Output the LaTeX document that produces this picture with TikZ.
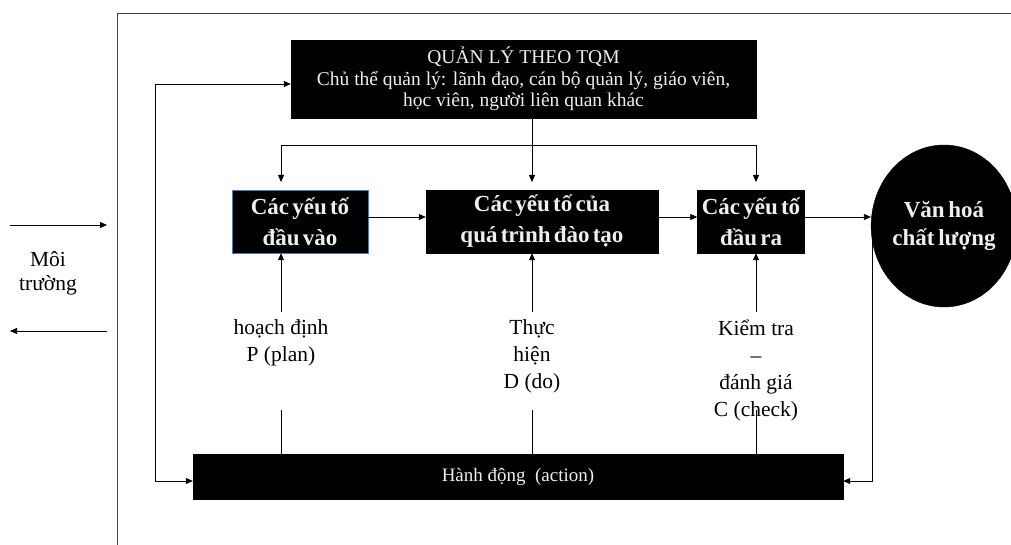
\documentclass[tikz,border=0pt]{standalone}
\usepackage{fontspec}
\setmainfont{Liberation Serif}
\usetikzlibrary{arrows.meta,shapes.geometric}
\definecolor{boxtext}{RGB}{238,238,238}
\definecolor{edgeblue}{RGB}{80,120,180}
\newcommand\myboldfont{\fontsize{23}{31}\selectfont\bfseries\spaceskip=0.14em\relax}
\newcommand\myellfont{\fontsize{23}{28}\selectfont\bfseries\spaceskip=0.16em\relax}
\begin{document}
\begin{tikzpicture}[x=1pt,y=-1pt,
  ln/.style={line width=0.8pt},
  arr/.style={ln,-{Triangle[length=7pt,width=6pt]}},
  dbl/.style={ln,{Triangle[length=7pt,width=6pt]}-{Triangle[length=7pt,width=6pt]}},
  blk/.style={draw=black,fill=black,text=boxtext,inner sep=0pt,align=center},
  boldtxt/.style={font=\myboldfont},
  lbl/.style={align=center,inner sep=0pt,font=\fontsize{21.5}{27}\selectfont}
]
\useasboundingbox (0,0) rectangle (1011,545);
% outer frame
\draw[ln,black!75] (117,545) -- (117,13) -- (1011,13);

% boxes
\node[blk,minimum width=465pt,minimum height=78pt,font=\fontsize{19.5}{21.5}\selectfont] (top) at (523.5,79)
  {QUẢN LÝ THEO TQM\\Chủ thể quản lý: lãnh đạo, cán bộ quản lý, giáo viên,\\học viên, người liên quan khác};
\node[blk,boldtxt,draw=edgeblue,minimum width=136pt,minimum height=63pt] (b1) at (300,221.5) {Các yếu tố\\đầu vào};
\node[blk,boldtxt,minimum width=232pt,minimum height=63pt] (b2) at (542,221.5) {Các yếu tố của\\quá trình đào tạo};
\node[blk,boldtxt,minimum width=107pt,minimum height=63pt] (b3) at (751,221.5) {Các yếu tố\\đầu ra};
\node[blk,ellipse,minimum width=126pt,minimum height=162pt,font=\myellfont] (vh) at (944,226) {Văn hoá\\chất lượng};
\node[blk,minimum width=650pt,minimum height=45pt,font=\fontsize{19}{21}\selectfont] (act) at (518,476.5) {Hành động~~(action)};

% labels
\node[lbl] (lp) at (281,343) {hoạch định\\P (plan)};
\node[lbl] (ld) at (532,356.5) {Thực\\hiện\\D (do)};
\node[lbl] (lc) at (756,370) {Kiểm tra\\–\\đánh giá\\C (check)};
\node[lbl,font=\fontsize{21.5}{24}\selectfont] (mt) at (48,273) {Môi\\trường};

% coordinates
\coordinate (brL) at (281,145);
\coordinate (brR) at (756,145);
\coordinate (t1) at (281,182);
\coordinate (t2) at (532,182);
\coordinate (t3) at (756,182);
\coordinate (row) at (0,217);
\coordinate (pU) at (281,312);
\coordinate (pL) at (281,410);
\coordinate (dU) at (532,312);
\coordinate (dL) at (532,410);
\coordinate (cU) at (756,312);
\coordinate (cL) at (756,410);
\coordinate (jR) at (872,217);
\coordinate (kR) at (872,481);
\coordinate (lT) at (155,84);
\coordinate (lB) at (155,481);
\coordinate (e1) at (10,225);
\coordinate (e2) at (107,225);
\coordinate (e3) at (107,331);
\coordinate (e4) at (10,331);

% top distribution
\draw[ln] (brL) -- (brR);
\draw[arr] (brL) -- (t1);
\draw[arr] (brR) -- (t3);
\draw[arr] (top.south -| t2) -- (t2);

% main row
\draw[arr] (b1.east |- row) -- (b2.west |- row);
\draw[arr] (b2.east |- row) -- (b3.west |- row);
\draw[arr] (b3.east |- row) -- (vh.west |- row);

% PDCA lines
\draw[arr] (pU) -- (pU |- b1.south);
\draw[arr] (dU) -- (dU |- b2.south);
\draw[arr] (cU) -- (cU |- b3.south);
\draw[ln] (pL) -- (pL |- act.north);
\draw[ln] (dL) -- (dL |- act.north);
\draw[ln] (cL) -- (cL |- act.north);

% feedback loops
\draw[arr] (jR) -- (kR) -- (act.east |- kR);
\draw[dbl] (top.west |- lT) -- (lT) -- (lB) -- (act.west |- lB);

% environment
\draw[arr] (e1) -- (e2);
\draw[arr] (e3) -- (e4);
\end{tikzpicture}
\end{document}
